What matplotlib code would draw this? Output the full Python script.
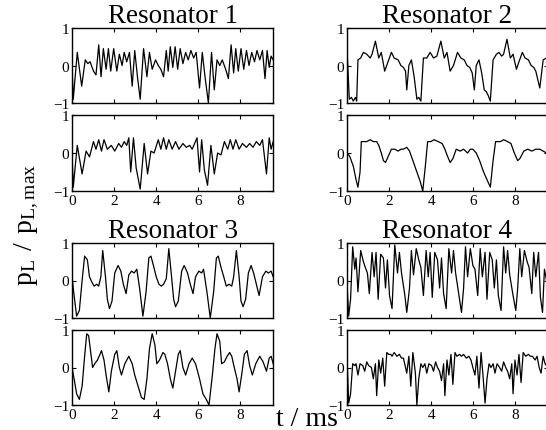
import matplotlib
matplotlib.use("Agg")
import matplotlib.pyplot as plt

# pressure traces: (t in ms, p_L / p_L,max)
res1_top = [(0.00, 0.0), (0.06, -0.9), (0.25, 0.35), (0.46, -0.55), (0.63, 0.15), (0.75, 0.05),
            (0.86, 0.1), (1.02, -0.15), (1.14, -0.25), (1.27, 0.55), (1.38, -0.3), (1.49, 0.45),
            (1.62, -0.1), (1.73, 0.45), (1.84, -0.15), (1.98, 0.45), (2.13, -0.15), (2.25, 0.3),
            (2.38, 0.0), (2.48, 0.35), (2.60, 0.1), (2.73, 0.35), (2.86, -0.55), (2.98, 0.4),
            (3.11, -0.3), (3.24, -0.9), (3.40, 0.45), (3.56, -0.3), (3.68, 0.35), (3.81, -0.1),
            (3.97, 0.15), (4.10, 0.0), (4.22, -0.1), (4.35, -0.3), (4.48, 0.4), (4.57, -0.15),
            (4.67, 0.5), (4.79, -0.05), (4.90, 0.5), (5.02, -0.1), (5.14, 0.45), (5.27, 0.05),
            (5.40, 0.35), (5.52, 0.15), (5.65, 0.4), (5.78, 0.2), (5.90, 0.35), (6.06, -0.6),
            (6.19, 0.35), (6.32, -0.3), (6.48, -1.0), (6.63, 0.35), (6.76, -0.65), (6.89, 0.15),
            (7.02, 0.0), (7.14, 0.15), (7.30, -0.1), (7.43, -0.35), (7.56, 0.55), (7.68, -0.2),
            (7.78, 0.45), (7.90, -0.15), (8.03, 0.45), (8.16, -0.1), (8.29, 0.4), (8.41, 0.0),
            (8.54, 0.35), (8.67, 0.1), (8.79, 0.4), (8.92, 0.15), (9.05, 0.4), (9.17, -0.35),
            (9.27, 0.4), (9.37, -0.05), (9.46, 0.25), (9.56, 0.15)]
res1_bot = [(0.00, 0.0), (0.06, -0.9), (0.25, 0.2), (0.48, -0.55), (0.67, 0.05), (0.83, -0.1),
            (1.02, 0.3), (1.14, 0.1), (1.27, 0.35), (1.40, 0.05), (1.52, 0.35), (1.68, 0.1),
            (1.87, 0.2), (2.03, 0.05), (2.22, 0.25), (2.35, 0.15), (2.48, 0.3), (2.60, 0.2),
            (2.70, 0.4), (2.79, -0.5), (2.92, 0.4), (3.05, -0.4), (3.24, -0.95), (3.43, 0.25),
            (3.59, -0.55), (3.75, 0.05), (3.90, 0.0), (4.10, 0.35), (4.22, 0.1), (4.35, 0.4),
            (4.48, 0.1), (4.60, 0.35), (4.76, 0.1), (4.92, 0.3), (5.08, 0.1), (5.27, 0.25),
            (5.43, 0.15), (5.59, 0.2), (5.71, 0.1), (5.94, 0.4), (6.06, -0.5), (6.16, 0.35),
            (6.29, -0.45), (6.44, -0.85), (6.60, 0.2), (6.76, -0.55), (6.92, 0.0), (7.08, -0.05),
            (7.24, 0.3), (7.40, 0.1), (7.52, 0.35), (7.65, 0.1), (7.78, 0.35), (7.94, 0.1),
            (8.10, 0.25), (8.29, 0.15), (8.44, 0.25), (8.60, 0.15), (8.76, 0.3), (8.92, 0.2),
            (9.05, 0.35), (9.24, -0.55), (9.37, 0.4), (9.46, 0.1), (9.56, 0.3)]

res2_top = [(0.02, 0.2), (0.11, -0.9), (0.21, -0.85), (0.30, -0.95), (0.40, -0.85), (0.46, -0.95),
            (0.52, 0.15), (0.65, 0.2), (0.78, 0.35), (0.94, 0.3), (1.10, 0.2), (1.19, 0.3),
            (1.35, 0.65), (1.51, 0.2), (1.63, 0.35), (1.79, -0.15), (1.95, 0.1), (2.11, 0.35),
            (2.24, 0.2), (2.43, 0.15), (2.56, 0.0), (2.68, -0.05), (2.78, -0.15), (2.84, -0.65),
            (2.94, 0.0), (3.06, 0.15), (3.19, -0.3), (3.32, -0.9), (3.41, -0.85), (3.51, -0.95),
            (3.63, 0.2), (3.79, 0.2), (3.95, 0.35), (4.11, 0.2), (4.27, 0.25), (4.46, 0.65),
            (4.62, 0.2), (4.75, 0.35), (4.90, -0.15), (5.06, 0.0), (5.25, 0.35), (5.41, 0.2),
            (5.57, 0.15), (5.70, 0.0), (5.83, -0.05), (5.95, -0.2), (6.05, -0.65), (6.14, 0.0),
            (6.27, 0.15), (6.40, -0.2), (6.52, -0.65), (6.62, -0.7), (6.71, -0.8), (6.81, -0.95),
            (6.94, 0.15), (7.10, 0.3), (7.22, 0.35), (7.35, 0.25), (7.44, 0.3), (7.60, 0.7),
            (7.76, 0.2), (7.89, 0.3), (8.05, -0.1), (8.17, 0.1), (8.33, 0.35), (8.46, 0.2),
            (8.62, 0.15), (8.75, 0.0), (8.87, -0.05), (8.97, -0.15), (9.16, -0.6), (9.32, 0.15),
            (9.48, 0.2)]
res2_bot = [(0.02, 0.0), (0.14, -0.1), (0.30, -0.35), (0.43, -0.7), (0.52, -0.9), (0.62, -0.5),
            (0.68, 0.3), (0.81, 0.3), (0.94, 0.3), (1.10, 0.35), (1.25, 0.3), (1.41, 0.3),
            (1.51, 0.2), (1.63, 0.0), (1.73, -0.2), (1.83, -0.25), (1.95, -0.1), (2.11, 0.1),
            (2.27, 0.1), (2.43, 0.05), (2.56, 0.1), (2.68, 0.1), (2.84, 0.15), (2.97, 0.05),
            (3.13, -0.2), (3.32, -0.5), (3.48, -0.75), (3.60, -1.0), (3.73, -0.3), (3.83, 0.3),
            (3.98, 0.3), (4.14, 0.35), (4.33, 0.3), (4.52, 0.25), (4.65, 0.1), (4.75, -0.05),
            (4.90, -0.25), (5.03, -0.15), (5.19, 0.1), (5.38, 0.05), (5.54, 0.1), (5.73, 0.0),
            (5.86, 0.1), (5.98, 0.1), (6.14, 0.0), (6.30, -0.2), (6.49, -0.5), (6.65, -0.7),
            (6.81, -0.9), (6.94, -0.2), (7.06, 0.3), (7.29, 0.3), (7.44, 0.35), (7.63, 0.3),
            (7.79, 0.25), (7.95, 0.0), (8.11, -0.2), (8.21, -0.15), (8.40, 0.05), (8.59, 0.1),
            (8.78, 0.05), (8.97, 0.1), (9.16, 0.1), (9.32, 0.05), (9.48, 0.0)]

res3_top = [(0.00, 0.1), (0.10, -0.4), (0.22, -0.95), (0.35, -0.8), (0.48, 0.0), (0.60, 0.65),
            (0.73, 0.55), (0.83, 0.1), (0.95, -0.05), (1.05, -0.15), (1.17, -0.1), (1.27, -0.15),
            (1.37, 0.1), (1.46, 0.8), (1.59, 0.1), (1.68, -0.5), (1.78, -0.75), (1.90, -0.55),
            (2.03, 0.2), (2.19, 0.4), (2.32, 0.25), (2.44, -0.1), (2.57, -0.35), (2.70, 0.15),
            (2.83, 0.25), (2.95, 0.2), (3.08, 0.3), (3.21, -0.2), (3.37, -0.95), (3.52, -0.3),
            (3.65, 0.6), (3.75, 0.65), (3.87, 0.4), (4.00, 0.1), (4.13, -0.1), (4.25, -0.15),
            (4.35, -0.1), (4.48, 0.05), (4.60, 0.85), (4.73, 0.1), (4.83, -0.5), (4.92, -0.7),
            (5.05, -0.55), (5.21, 0.25), (5.33, 0.4), (5.49, 0.2), (5.62, -0.1), (5.75, -0.35),
            (5.87, 0.1), (6.03, 0.25), (6.16, 0.2), (6.25, 0.3), (6.41, -0.3), (6.57, -1.0),
            (6.73, -0.3), (6.86, 0.6), (6.95, 0.65), (7.08, 0.35), (7.21, 0.1), (7.33, -0.15),
            (7.46, -0.1), (7.59, -0.15), (7.68, 0.1), (7.81, 0.8), (7.94, 0.1), (8.03, -0.55),
            (8.13, -0.7), (8.25, -0.5), (8.38, 0.2), (8.51, 0.4), (8.63, 0.2), (8.76, -0.1),
            (8.89, -0.4), (9.05, 0.1), (9.21, 0.25), (9.33, 0.2), (9.46, 0.25), (9.56, 0.1)]
res3_bot = [(0.00, 0.0), (0.10, -0.3), (0.22, -0.7), (0.35, -0.85), (0.48, -0.5), (0.60, 0.3),
            (0.70, 0.9), (0.79, 0.85), (0.89, 0.4), (0.98, 0.0), (1.08, 0.1), (1.21, 0.2),
            (1.33, 0.35), (1.40, 0.45), (1.52, 0.2), (1.62, -0.2), (1.75, -0.65), (1.87, -0.1),
            (2.03, 0.35), (2.13, 0.45), (2.25, 0.0), (2.35, -0.2), (2.51, 0.1), (2.70, 0.3),
            (2.86, 0.1), (2.98, -0.2), (3.14, -0.5), (3.30, -0.8), (3.43, -0.85), (3.56, -0.3),
            (3.68, 0.5), (3.81, 0.9), (3.94, 0.6), (4.03, 0.1), (4.16, 0.2), (4.32, 0.4),
            (4.41, 0.35), (4.54, 0.1), (4.67, -0.3), (4.79, -0.55), (4.92, -0.1), (5.05, 0.35),
            (5.14, 0.45), (5.27, 0.0), (5.40, -0.2), (5.56, 0.1), (5.71, 0.25), (5.87, 0.1),
            (6.06, -0.3), (6.22, -0.7), (6.38, -0.85), (6.51, -1.0), (6.67, -0.2), (6.79, 0.5),
            (6.89, 0.9), (7.02, 0.7), (7.11, 0.1), (7.24, 0.15), (7.37, 0.3), (7.49, 0.4),
            (7.59, 0.3), (7.71, 0.0), (7.84, -0.3), (7.94, -0.65), (8.06, -0.2), (8.19, 0.35),
            (8.32, 0.45), (8.44, 0.05), (8.57, -0.2), (8.73, 0.1), (8.92, 0.3), (9.08, 0.15),
            (9.24, -0.1), (9.37, 0.25), (9.46, 0.3), (9.56, 0.1)]

res4_top = [(0.02, -0.3), (0.08, -0.95), (0.17, -0.5), (0.27, 0.9), (0.37, 0.3), (0.43, 0.6),
            (0.52, -0.3), (0.65, 0.8), (0.78, 0.5), (0.87, 0.35), (0.97, 0.2), (1.06, -0.35),
            (1.19, 0.75), (1.29, 0.1), (1.38, 0.75), (1.48, -0.5), (1.60, 0.7), (1.73, 0.6),
            (1.83, -0.2), (1.92, 0.55), (2.02, -0.4), (2.14, -0.75), (2.27, 0.95), (2.40, 0.2),
            (2.49, 0.75), (2.59, 0.2), (2.75, -0.4), (2.84, -0.85), (2.97, -0.2), (3.06, 0.8),
            (3.16, 0.15), (3.29, 0.85), (3.41, 0.55), (3.51, 0.35), (3.63, -0.4), (3.76, 0.8),
            (3.86, 0.1), (3.95, 0.75), (4.05, -0.45), (4.17, 0.75), (4.30, 0.55), (4.40, -0.2),
            (4.49, 0.6), (4.59, -0.35), (4.71, -0.75), (4.84, 0.85), (4.97, 0.2), (5.06, 0.8),
            (5.16, 0.2), (5.32, -0.4), (5.44, -0.85), (5.54, -0.2), (5.63, 0.9), (5.73, 0.1),
            (5.86, 0.85), (5.98, 0.4), (6.08, 0.3), (6.21, -0.4), (6.33, 0.85), (6.43, 0.1),
            (6.56, 0.75), (6.65, -0.5), (6.78, 0.75), (6.90, 0.55), (7.00, -0.2), (7.10, 0.55),
            (7.19, -0.4), (7.32, -0.8), (7.44, 0.9), (7.54, 0.2), (7.63, 0.8), (7.73, 0.15),
            (7.89, -0.4), (8.02, -0.8), (8.11, -0.2), (8.21, 0.85), (8.30, 0.1), (8.43, 0.8),
            (8.56, 0.5), (8.65, 0.35), (8.78, -0.35), (8.87, 0.75), (8.97, 0.1), (9.10, 0.75),
            (9.19, -0.45), (9.29, -0.85), (9.38, 0.3), (9.48, 0.0)]
res4_bot = [(0.02, 0.0), (0.08, -0.95), (0.17, -0.7), (0.27, 0.1), (0.37, 0.05), (0.43, 0.1),
            (0.52, -0.2), (0.62, 0.1), (0.75, 0.05), (0.84, -0.1), (0.94, 0.15), (1.03, 0.05),
            (1.16, 0.0), (1.25, -0.3), (1.35, 0.1), (1.41, -0.75), (1.51, 0.2), (1.60, -0.15),
            (1.70, 0.25), (1.79, -0.5), (1.89, 0.4), (1.98, 0.35), (2.08, 0.35), (2.14, 0.3),
            (2.24, 0.4), (2.37, 0.3), (2.49, 0.35), (2.59, 0.25), (2.68, 0.25), (2.78, 0.0),
            (2.84, -0.15), (2.94, 0.3), (3.03, -0.5), (3.13, 0.4), (3.25, -0.15), (3.32, -1.0),
            (3.41, -0.3), (3.51, 0.1), (3.60, 0.0), (3.70, 0.1), (3.79, -0.15), (3.89, 0.1),
            (4.02, 0.05), (4.11, -0.1), (4.21, 0.15), (4.30, 0.0), (4.40, -0.1), (4.49, -0.35),
            (4.59, 0.1), (4.65, -0.75), (4.75, 0.2), (4.84, -0.2), (4.94, 0.35), (5.03, -0.45),
            (5.13, 0.4), (5.22, 0.3), (5.35, 0.35), (5.44, 0.3), (5.54, 0.35), (5.67, 0.25),
            (5.79, 0.3), (5.89, 0.2), (5.98, 0.0), (6.08, -0.2), (6.17, 0.3), (6.27, -0.55),
            (6.37, 0.4), (6.46, -0.2), (6.56, -0.95), (6.65, -0.3), (6.75, 0.1), (6.84, 0.0),
            (6.94, 0.1), (7.03, -0.15), (7.13, 0.1), (7.25, 0.0), (7.35, -0.1), (7.44, 0.15),
            (7.54, 0.0), (7.63, -0.1), (7.73, -0.3), (7.83, 0.1), (7.89, -0.7), (7.98, 0.2),
            (8.08, -0.2), (8.17, 0.35), (8.27, -0.4), (8.37, 0.4), (8.49, 0.3), (8.62, 0.35),
            (8.71, 0.3), (8.81, 0.3), (8.94, 0.2), (9.03, 0.3), (9.13, 0.0), (9.22, -0.15),
            (9.32, 0.3), (9.41, 0.1), (9.48, 0.05)]

titles = ["Resonator 1", "Resonator 2", "Resonator 3", "Resonator 4"]
traces = [(res1_top, res1_bot), (res2_top, res2_bot),
          (res3_top, res3_bot), (res4_top, res4_bot)]
xticks = [0, 2, 4, 6, 8]
yticks = [-1, 0, 1]

plt.rcParams['font.family'] = ['Liberation Serif', 'DejaVu Serif']
plt.rcParams['mathtext.fontset'] = 'custom'
plt.rcParams['mathtext.rm'] = 'Liberation Serif'

W, H = 546, 431
fig = plt.figure(figsize=(W / 100, H / 100), dpi=100)

def box(x0, y0, x1, y1):
    # pixel box (top-left origin) -> figure fraction rect
    return [x0 / W, 1 - y1 / H, (x1 - x0) / W, (y1 - y0) / H]

cols = [(72, 273), (347, 548)]
rows = [((29, 104), (116, 192)), ((244, 319), (331, 406))]

for k, (title, (top, bot)) in enumerate(zip(titles, traces)):
    x0, x1 = cols[k % 2]
    (ta, tb), (ba, bb) = rows[k // 2]
    for j, (data, (ya, yb)) in enumerate([(top, (ta, tb)), (bot, (ba, bb))]):
        ax = fig.add_axes(box(x0, ya, x1, yb))
        t = [p[0] for p in data]
        v = [p[1] for p in data]
        ax.plot(t, v, color='black', lw=0.9)
        ax.set_xlim(0, 9.55)
        ax.set_ylim(-1, 1)
        ax.set_xticks(xticks)
        ax.set_yticks(yticks)
        ax.tick_params(direction='in', top=True, right=True, length=3,
                       width=0.8, labelsize=11, pad=2)
        for s in ax.spines.values():
            s.set_linewidth(1.0)
        if j == 0:
            ax.set_xticklabels([])
            ax.set_title(title, fontsize=19.5, pad=2)

fig.text(0.05, 0.478, r'$\mathrm{p_L\ /\ p_{L,max}}$', rotation=90,
         fontsize=20, ha='center', va='center')
fig.text(0.562, 0.026, 't / ms', fontsize=20, ha='center', va='center')

fig.savefig('out.png', dpi=100)
